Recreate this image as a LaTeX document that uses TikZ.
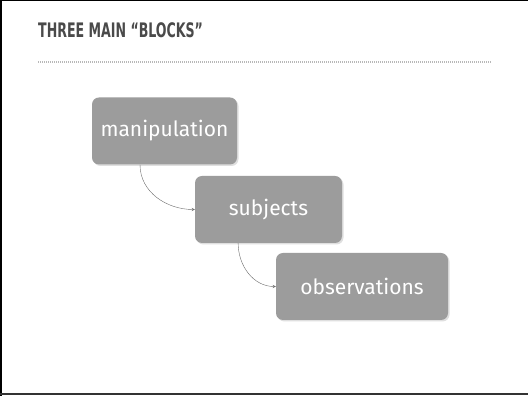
\documentclass[tikz,border=0pt]{standalone}
\usepackage{fontspec}
\usepackage{graphicx}
\setmainfont{Fira Sans}
\newfontfamily\titlefont{DejaVu Sans Condensed}
\usetikzlibrary{shadows}

\definecolor{blockgray}{HTML}{9C9C9C}
\definecolor{linkgray}{HTML}{6E6E6E}
\definecolor{titlegray}{HTML}{4A4A4A}
\definecolor{rulegray}{HTML}{B8B8B8}

\tikzset{
  block/.style={rectangle, rounded corners=7pt, fill=blockgray, text=white,
    font=\fontsize{21}{24}\selectfont, minimum height=67pt,
    drop shadow={shadow xshift=1.5pt, shadow yshift=-1.5pt, opacity=0.25}},
  link/.style={->, >=stealth, draw=linkgray, thin}
}

\begin{document}
\begin{tikzpicture}[x=1pt,y=1pt]
    \useasboundingbox (0,0) rectangle (528,396);
    \fill[white] (0,0) rectangle (528,396);
    % frame
    \draw[line width=2pt] (1,0) -- (1,396);
    \draw[line width=0.8pt] (0,395.6) -- (528,395.6);
    \draw[line width=2pt, black!80] (0,1.5) -- (528,1.5);

    % heading and dotted rule
    \node[anchor=base west, inner sep=0pt, text=titlegray,
      font=\titlefont\bfseries\fontsize{20}{24}\selectfont] (title) at (38,358)
      {\scalebox{0.70}[1]{THREE MAIN “BLOCKS”}};
    \draw[rulegray, line width=1.2pt, dash pattern=on 1pt off 1pt] (38,334) -- (492,334);

    % the three blocks
    \node[block, minimum width=145pt] (manip) at (164.5,265) {manipulation};
    \node[block, minimum width=147pt] (subj) at (268.5,186.5) {subjects};
    \node[block, minimum width=172pt] (obs) at (362,109.5) {observations};

    \draw[link] (manip.234) to[out=-90, in=180] (subj.west);
    \draw[link] (subj.228) to[out=-90, in=180] (obs.west);
\end{tikzpicture}
\end{document}
